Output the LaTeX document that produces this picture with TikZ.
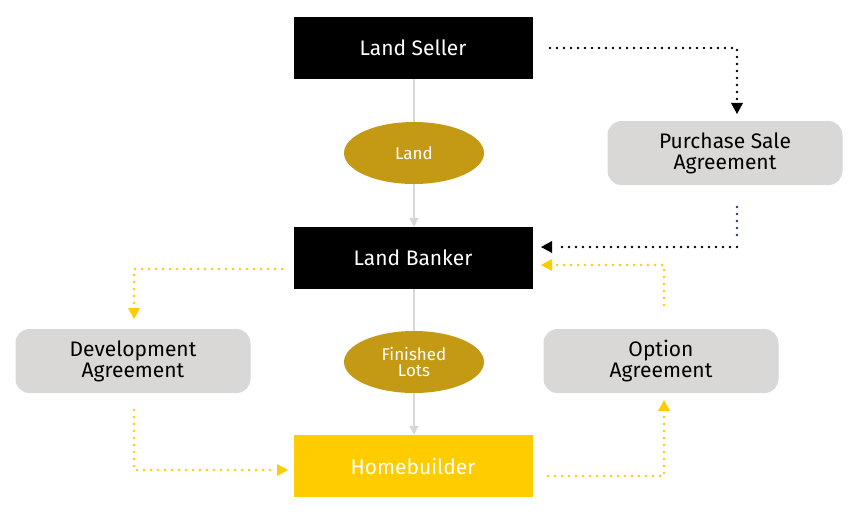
\documentclass[tikz,border=0pt]{standalone}
\usepackage{fontspec}
\setmainfont{Fira Sans}
\usetikzlibrary{arrows.meta,shapes.geometric}
\definecolor{gold}{HTML}{C49A14}
\definecolor{yel}{HTML}{FFCC00}
\definecolor{lg}{HTML}{D9D8D6}
\definecolor{navy}{HTML}{1F3A6E}
\begin{document}
\begin{tikzpicture}[x=1pt,y=-1pt,
 blk/.style={fill=black,text=white,minimum width=239pt,minimum height=62pt,font=\fontsize{21}{23}\selectfont},
 ell/.style={ellipse,fill=gold,text=white,minimum width=140pt,minimum height=62pt,inner sep=0pt,align=center,font=\fontsize{17}{16}\selectfont},
 gbox/.style={fill=lg,rounded corners=14pt,minimum width=235pt,minimum height=64pt,align=center,font=\fontsize{21}{21}\selectfont},
 gl/.style={draw=lg,line width=1.5pt},
 ga/.style={gl,-{Triangle[length=9pt,width=9pt]}},
 dot/.style={line width=2.6pt,dash pattern=on 0pt off 7pt,line cap=round}]
\useasboundingbox[fill=white] (0,0) rectangle (866,516);
\node[blk] (ls) at (413,48) {Land Seller};
\node[ell] (land) at (414,153) {Land};
\node[blk] (lb) at (413,258) {Land Banker};
\node[ell] (fl) at (414,362) {Finished\\Lots};
\node[blk,fill=yel] (hb) at (413,466) {Homebuilder};
\node[gbox] (psa) at (725,153) {Purchase Sale\\Agreement};
\node[gbox] (da) at (133,361) {Development\\Agreement};
\node[gbox] (oa) at (661,361) {Option\\Agreement};
\draw[gl] (ls.south -| land.north) -- (land.north);
\draw[ga] (land.south) -- (lb.north -| land.south);
\draw[gl] (lb.south -| fl.north) -- (fl.north);
\draw[ga] (fl.south) -- (hb.north -| fl.south);
\coordinate (a1) at (550,48); \coordinate (a2) at (737,48);
\draw[dot,black] (a1) -- (a2) -- (737,100);
\fill (731,103) -- (743,103) -- (737,114) -- cycle;
\draw[dot,navy] (737,207) -- (737,240);
\draw[dot,black] (737,247) -- (556,247);
\fill (541,247) -- (552,241) -- (552,253) -- cycle;
\draw[dot,yel] (664,305) -- (664,265) -- (556,265);
\fill[yel] (541,265) -- (552,259) -- (552,271) -- cycle;
\draw[dot,yel] (282,269) -- (134,269) -- (134,305);
\fill[yel] (134,319) -- (128,308) -- (140,308) -- cycle;
\draw[dot,yel] (134,410) -- (134,470) -- (274,470);
\fill[yel] (288,470) -- (277,464) -- (277,476) -- cycle;
\draw[dot,yel] (548,476) -- (664,476) -- (664,414);
\fill[yel] (664,400) -- (658,411) -- (670,411) -- cycle;
\end{tikzpicture}
\end{document}
